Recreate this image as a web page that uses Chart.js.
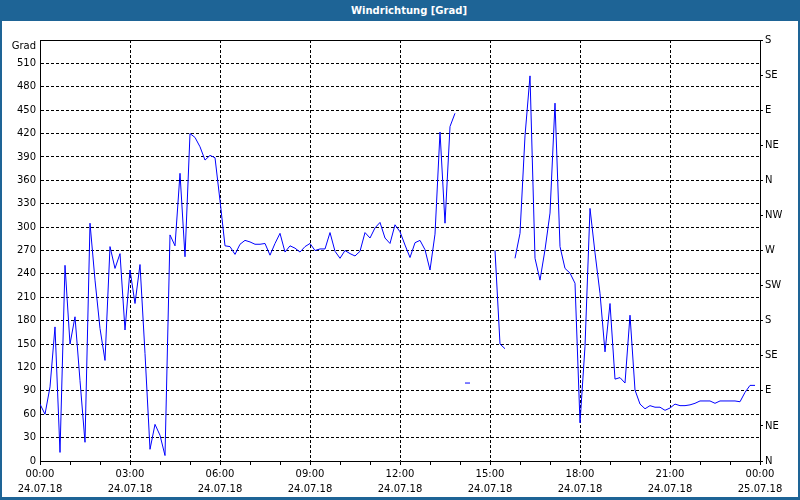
<!DOCTYPE html>
<html>
<head>
<meta charset="utf-8">
<script src="https://cdn.jsdelivr.net/npm/chart.js@4/dist/chart.umd.min.js"></script>
<style>
  html, body { margin: 0; padding: 0; background: #fff; }
  #frame { width: 800px; height: 500px; box-sizing: border-box; position: relative; }
  #titlebar {
    height: 21px; background: #1e6496; color: #fff;
    font: bold 10px "DejaVu Sans", sans-serif;
    text-align: center; line-height: 21px; padding-left: 18px; box-sizing: border-box;
  }
  #body {
    width: 800px; height: 479px; box-sizing: border-box;
    border: 2px solid #1e6496; border-top: none; border-bottom-width: 3px; background: #fff;
  }
  canvas { display: block; }
</style>
</head>
<body>
<div id="frame">
  <div id="titlebar">Windrichtung [Grad]</div>
  <div id="body"><canvas id="windChart" width="796" height="476"></canvas></div>
</div>
<script>
// wind direction in degrees, one value every 10 minutes from 00:00 (null = no data)
const windDir = [
    73, 60, 95, 172, 11, 251,        // 00
    150, 185, 103, 24, 305, 232,     // 01
    170, 129, 275, 247, 266, 168,    // 02
    245, 202, 252, 138, 15, 47,      // 03
    33, 7, 290, 276, 369, 262,       // 04
    420, 415, 403, 386, 392, 389,    // 05
    334, 276, 275, 265, 278, 283,    // 06
    281, 278, 278, 279, 264, 279,    // 07
    292, 268, 276, 273, 268, 275,    // 08
    279, 270, 272, 272, 293, 269,    // 09
    260, 270, 266, 263, 269, 293,    // 10
    286, 299, 306, 286, 279, 303,    // 11
    294, 277, 261, 280, 283, 271,    // 12
    245, 291, 422, 305, 429, 446,    // 13
    null, 100, 100, null, null, null,// 14
    null, 270, 150, 144, null, 260,  // 15
    292, 417, 494, 260, 232, 271,    // 16
    318, 459, 275, 247, 241, 228,    // 17
    49, 147, 324, 267, 215, 140,     // 18
    202, 105, 107, 100, 187, 91,     // 19
    73, 67, 71, 69, 69, 65,          // 20
    68, 73, 71, 71, 72, 74,          // 21
    77, 77, 77, 74, 77, 77,          // 22
    77, 77, 76, 88, 97, 97           // 23
];
const sampleMinutes = 10;

// x axis labels every 3 hours
const timeTicks = ['00:00', '03:00', '06:00', '09:00', '12:00', '15:00', '18:00', '21:00', '00:00'];
const dateTicks = ['24.07.18', '24.07.18', '24.07.18', '24.07.18', '24.07.18', '24.07.18', '24.07.18', '24.07.18', '25.07.18'];

// right axis, one label every 45 degrees
const compassTicks = ['N', 'NE', 'E', 'SE', 'S', 'SW', 'W', 'NW', 'N', 'NE', 'E', 'SE', 'S'];

const points = windDir.map((v, i) => ({ x: i * sampleMinutes, y: v }));

const tickFont = { family: 'DejaVu Sans', size: 10, lineHeight: 1.5 };
const dash = [3, 2];

// top frame line and the "Grad" unit label
const framePlugin = {
    id: 'frame',
    afterDraw(chart) {
        const { ctx, chartArea } = chart;
        ctx.save();
        ctx.strokeStyle = '#000';
        ctx.lineWidth = 1;
        ctx.beginPath();
        ctx.moveTo(chartArea.left, chartArea.top + 0.5);
        ctx.lineTo(chartArea.right + 1, chartArea.top + 0.5);
        ctx.stroke();
        ctx.fillStyle = '#000';
        ctx.font = '10px "DejaVu Sans"';
        ctx.textAlign = 'right';
        ctx.textBaseline = 'middle';
        ctx.fillText('Grad', chartArea.left - 4, chartArea.top + 6);
        ctx.restore();
    }
};

const ctx = document.getElementById('windChart').getContext('2d');
const windChart = new Chart(ctx, {
    type: 'line',
    data: {
        datasets: [{
            label: 'Windrichtung',
            data: points,
            borderColor: '#0000ff',
            borderWidth: 1,
            pointRadius: 0,
            tension: 0,
            spanGaps: false
        }]
    },
    options: {
        responsive: false,
        animation: false,
        layout: { padding: { top: 19, left: 0, right: 0, bottom: 0 } },
        plugins: { legend: { display: false }, tooltip: { enabled: false } },
        scales: {
            x: {
                type: 'linear',
                min: 0,
                max: 1440,
                afterFit: s => { s.height = 36; },
                ticks: {
                    stepSize: 60,
                    autoSkip: false,
                    maxRotation: 0,
                    padding: 2,
                    color: '#000',
                    font: tickFont,
                    callback: v => v % 180 === 0 ? [timeTicks[v / 180], dateTicks[v / 180]] : ''
                },
                grid: {
                    color: c => (c.tick && c.tick.value % 180 === 0) ? '#000' : 'rgba(0,0,0,0)',
                    tickColor: '#000',
                    tickLength: 4,
                    tickBorderDash: [],
                    lineWidth: 1
                },
                border: { display: true, color: '#000', width: 1, dash: dash }
            },
            y: {
                position: 'left',
                min: 0,
                max: 540,
                afterFit: s => { s.width = 38; },
                ticks: {
                    stepSize: 30,
                    padding: 4,
                    color: '#000',
                    font: tickFont,
                    callback: v => v === 540 ? '' : v
                },
                grid: { color: '#000', drawTicks: false, lineWidth: 1 },
                border: { display: true, color: '#000', width: 1, dash: dash }
            },
            y2: {
                position: 'right',
                min: 0,
                max: 540,
                afterFit: s => { s.width = 38; },
                ticks: {
                    stepSize: 45,
                    padding: 2,
                    color: '#000',
                    font: tickFont,
                    callback: v => compassTicks[Math.round(v / 45)]
                },
                grid: { drawOnChartArea: false, color: '#000', tickLength: 3 },
                border: { display: true, color: '#000', width: 1 }
            }
        }
    },
    plugins: [framePlugin]
});
</script>
</body>
</html>
